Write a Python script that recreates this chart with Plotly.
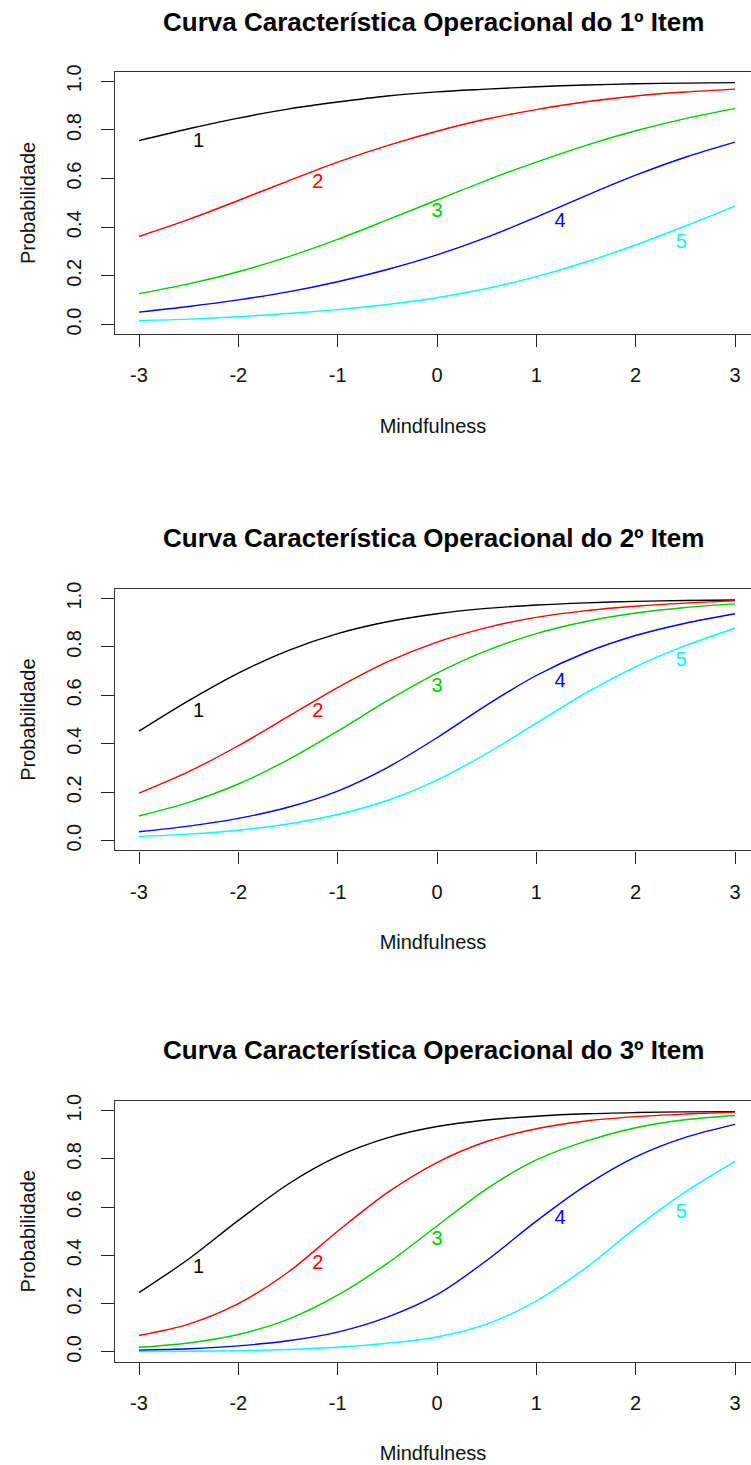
import plotly.graph_objects as go

# ---------------- data ----------------
theta = [-3.0, -2.5, -2.0, -1.5, -1.0, -0.5, 0.0, 0.5, 1.0, 1.5, 2.0, 2.5, 3.0]

item1_c1 = [0.756, 0.805, 0.849, 0.886, 0.915, 0.940, 0.957, 0.968, 0.978, 0.985, 0.990, 0.993, 0.995]
item1_c2 = [0.362, 0.432, 0.510, 0.590, 0.668, 0.736, 0.795, 0.845, 0.884, 0.916, 0.940, 0.956, 0.968]
item1_c3 = [0.127, 0.167, 0.217, 0.278, 0.350, 0.430, 0.512, 0.593, 0.668, 0.737, 0.797, 0.847, 0.888]
item1_c4 = [0.051, 0.074, 0.101, 0.134, 0.176, 0.226, 0.286, 0.358, 0.442, 0.530, 0.614, 0.688, 0.750]
item1_c5 = [0.016, 0.022, 0.032, 0.045, 0.061, 0.082, 0.110, 0.148, 0.197, 0.257, 0.327, 0.405, 0.487]

item2_c1 = [0.452, 0.578, 0.692, 0.785, 0.855, 0.904, 0.937, 0.959, 0.973, 0.982, 0.988, 0.992, 0.994]
item2_c2 = [0.196, 0.285, 0.392, 0.512, 0.632, 0.738, 0.820, 0.880, 0.922, 0.950, 0.968, 0.981, 0.990]
item2_c3 = [0.102, 0.158, 0.234, 0.334, 0.452, 0.578, 0.692, 0.785, 0.855, 0.905, 0.940, 0.963, 0.978]
item2_c4 = [0.037, 0.060, 0.092, 0.138, 0.205, 0.302, 0.425, 0.560, 0.682, 0.777, 0.847, 0.898, 0.937]
item2_c5 = [0.017, 0.027, 0.043, 0.069, 0.108, 0.166, 0.250, 0.360, 0.485, 0.610, 0.718, 0.805, 0.877]

item3_c1 = [0.246, 0.385, 0.545, 0.695, 0.810, 0.887, 0.934, 0.961, 0.977, 0.987, 0.992, 0.995, 0.996]
item3_c2 = [0.068, 0.115, 0.200, 0.330, 0.500, 0.660, 0.785, 0.872, 0.925, 0.957, 0.975, 0.986, 0.994]
item3_c3 = [0.019, 0.037, 0.072, 0.135, 0.235, 0.367, 0.522, 0.676, 0.796, 0.874, 0.929, 0.962, 0.980]
item3_c4 = [0.007, 0.013, 0.025, 0.046, 0.082, 0.144, 0.237, 0.379, 0.542, 0.690, 0.808, 0.889, 0.943]
item3_c5 = [0.002, 0.003, 0.005, 0.010, 0.019, 0.036, 0.062, 0.115, 0.211, 0.349, 0.514, 0.663, 0.790]

category_labels = ["1", "2", "3", "4", "5"]
label_x = [-2.40, -1.20, 0.0, 1.24, 2.46]
item1_label_y = [0.750, 0.584, 0.462, 0.420, 0.335]
item2_label_y = [0.532, 0.532, 0.636, 0.657, 0.740]
item3_label_y = [0.349, 0.365, 0.465, 0.549, 0.574]

titles = [
    "Curva Característica Operacional do 1º Item",
    "Curva Característica Operacional do 2º Item",
    "Curva Característica Operacional do 3º Item",
]
x_ticks = [-3, -2, -1, 0, 1, 2, 3]
x_ticktext = ["-3", "-2", "-1", "0", "1", "2", "3"]
y_ticks = [0.0, 0.2, 0.4, 0.6, 0.8, 1.0]
y_ticktext = ["0.0", "0.2", "0.4", "0.6", "0.8", "1.0"]
x_title = "Mindfulness"
y_title = "Probabilidade"

# ---------------- styling / layout ----------------
colors = ["#000000", "#FF0000", "#00CD00", "#0000FF", "#00FFFF"]
FONT = "Arial, Liberation Sans, sans-serif"
W, H = 751, 1465
panels_px = [(65, 329), (585, 848), (1100, 1362)]  # (top, bottom) of each plot box
plot_left_px = 115
title_center_px = [15, 534, 1049]
title_center_x = 433

items = [
    ([item1_c1, item1_c2, item1_c3, item1_c4, item1_c5], item1_label_y),
    ([item2_c1, item2_c2, item2_c3, item2_c4, item2_c5], item2_label_y),
    ([item3_c1, item3_c2, item3_c3, item3_c4, item3_c5], item3_label_y),
]

fig = go.Figure()
layout = dict(
    width=W, height=H, autosize=False,
    margin=dict(l=0, r=0, t=0, b=0),
    paper_bgcolor="white", plot_bgcolor="white",
    showlegend=False,
    font=dict(family=FONT, size=20, color="black"),
    annotations=[],
)

for i, (curves, lab_y) in enumerate(items):
    n = i + 1
    xa = "x" if n == 1 else f"x{n}"
    ya = "y" if n == 1 else f"y{n}"
    for k, ys in enumerate(curves):
        fig.add_trace(go.Scatter(
            x=theta, y=ys, mode="lines",
            line=dict(color=colors[k], width=1.4, shape="spline", smoothing=0.9),
            xaxis=xa, yaxis=ya, hoverinfo="skip",
        ))
    fig.add_trace(go.Scatter(
        x=label_x, y=lab_y, mode="text", text=category_labels,
        textfont=dict(family=FONT, size=20, color=colors),
        xaxis=xa, yaxis=ya, hoverinfo="skip",
    ))
    top, bot = panels_px[i]
    xkey = "xaxis" if n == 1 else f"xaxis{n}"
    ykey = "yaxis" if n == 1 else f"yaxis{n}"
    layout[xkey] = dict(
        domain=[plot_left_px / W, 1.0], anchor=ya,
        range=[-3.2416, 3.161], tickvals=x_ticks, ticktext=x_ticktext,
        ticks="outside", ticklen=12, tickwidth=1.2, tickcolor="#222",
        showline=True, mirror=True, linecolor="#333", linewidth=1.3,
        showgrid=False, zeroline=False, fixedrange=True,
        tickfont=dict(family=FONT, size=20, color="#111"),
        ticklabelstandoff=11,
        title=dict(text=x_title, font=dict(family=FONT, size=20, color="#111"), standoff=33),
    )
    layout[ykey] = dict(
        domain=[1 - bot / H, 1 - top / H], anchor=xa,
        range=[-0.04, 1.04], tickvals=y_ticks, ticktext=y_ticktext,
        ticks="outside", ticklen=13, tickwidth=1.2, tickcolor="#222",
        showline=True, mirror=False, linecolor="#333", linewidth=1.3,
        showgrid=False, zeroline=False, fixedrange=True, tickangle=-90,
        tickfont=dict(family=FONT, size=20, color="#111"),
        ticklabelstandoff=12,
        title=dict(text=y_title, font=dict(family=FONT, size=20, color="#111"), standoff=21),
    )
    layout["annotations"].append(dict(
        text="<b>" + titles[i] + "</b>", xref="paper", yref="paper",
        x=title_center_x / W, y=1 - title_center_px[i] / H, xanchor="center", yanchor="middle",
        showarrow=False, font=dict(family=FONT, size=26, color="black"),
    ))

fig.update_layout(**layout)
fig.write_html("out.html", config={"displayModeBar": False})
